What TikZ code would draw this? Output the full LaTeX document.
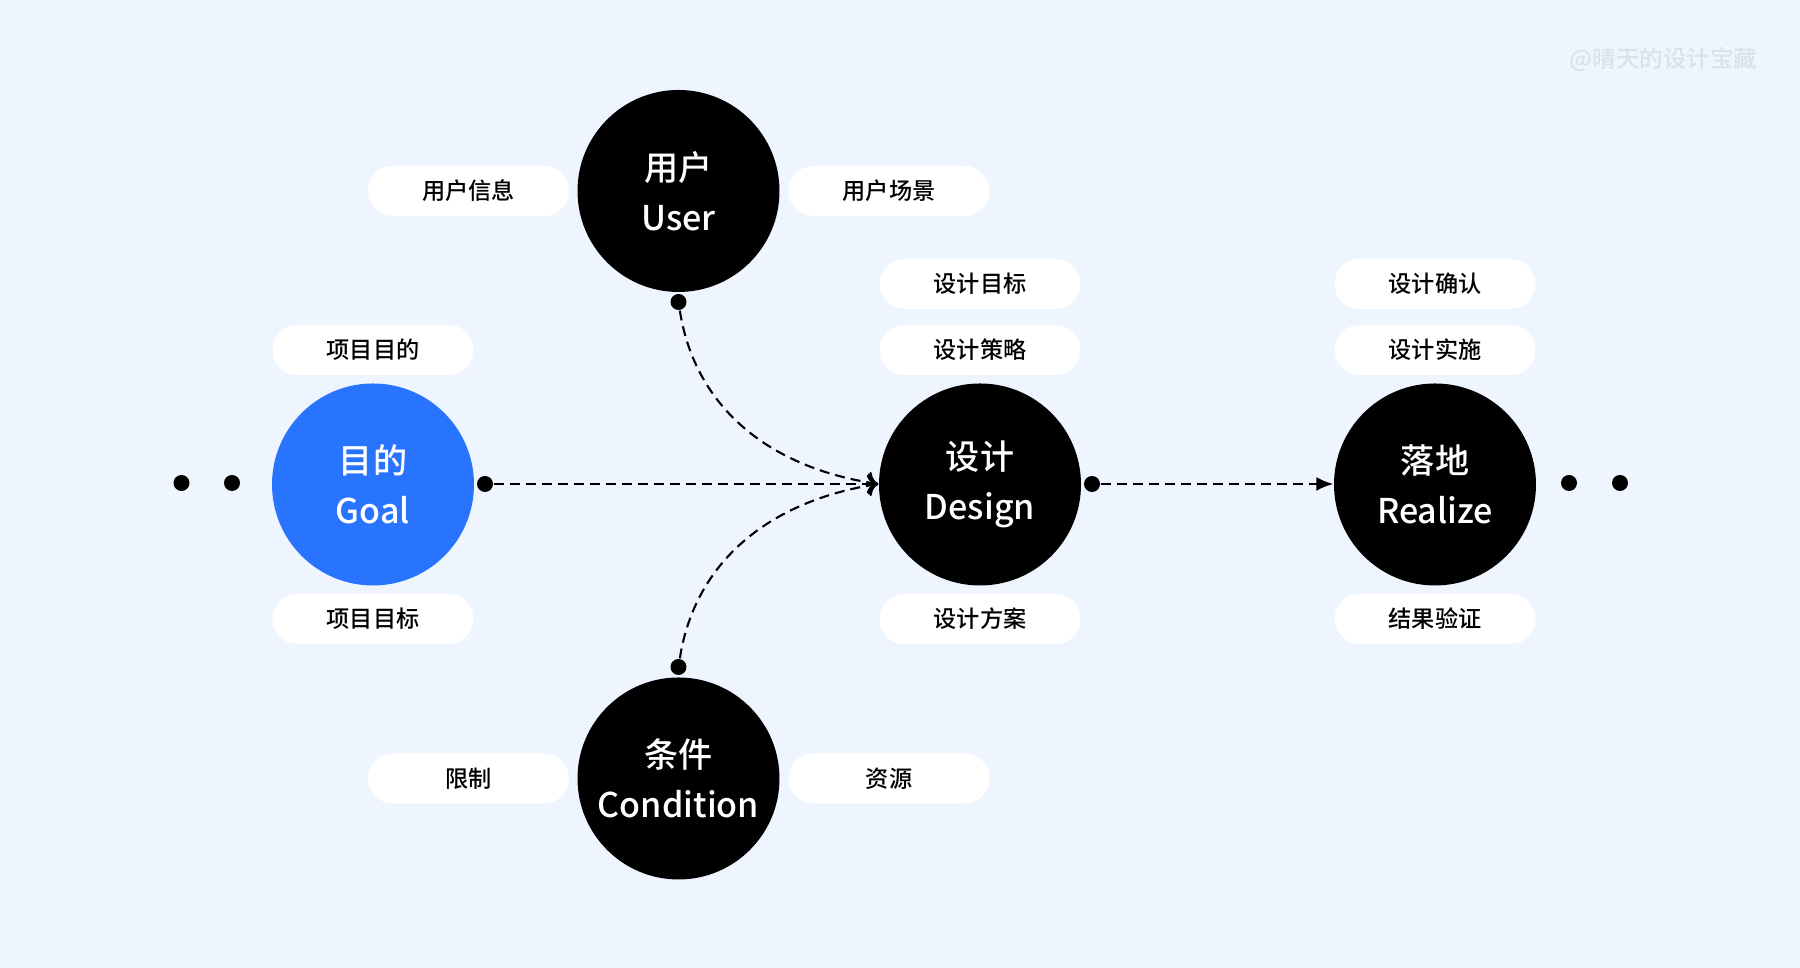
\documentclass[tikz,border=0pt]{standalone}
\usepackage{fontspec}
\setmainfont{Noto Sans CJK SC}
\newfontfamily\medfont{Noto Sans CJK SC Medium}
\usepackage{xcolor}
\usetikzlibrary{positioning}
\usetikzlibrary{arrows.meta}

\definecolor{bgblue}{RGB}{239,245,255}
\definecolor{goalblue}{RGB}{40,116,255}
\definecolor{markgray}{RGB}{218,225,236}

\tikzset{
    stage/.style={circle, fill=black, text=white, minimum size=2.02cm, inner sep=0pt,
        align=center, font=\medfont\fontsize{9.7}{14.2}\selectfont},
    pill/.style={rectangle, rounded corners=0.25cm, fill=white, minimum width=2.01cm,
        minimum height=0.5cm, inner sep=0pt, font=\medfont\fontsize{6.6}{7}\selectfont},
    dot/.style={circle, fill=black, minimum size=0.16cm, inner sep=0pt},
    flow/.style={line width=0.6pt, dash pattern=on 1mm off 0.6mm},
}

\begin{document}
\begin{tikzpicture}
    \fill[bgblue] (0,0) rectangle (18,9.68);
    \useasboundingbox (0,0) rectangle (18,9.68);

    % stages
    \node[stage, fill=goalblue] (goal) at (3.73,4.835) {目的\\Goal};
    \node[stage] (user) at (6.785,7.77) {用户\\User};
    \node[stage] (design) at (9.80,4.835) {设计\\Design};
    \node[stage] (realize) at (14.35,4.835) {落地\\Realize};
    \node[stage] (cond) at (6.785,1.895) {条件\\Condition};

    % labels
    \node[pill] (userinfo) at (4.685,7.77) {用户信息};
    \node[pill] (userscene) at (8.89,7.77) {用户场景};
    \node[pill] (goalaim) at (3.73,6.18) {项目目的};
    \node[pill] (goaltarget) at (3.73,3.49) {项目目标};
    \node[pill] (designtarget) at (9.80,6.84) {设计目标};
    \node[pill] (designplan) at (9.80,6.18) {设计策略};
    \node[pill] (designscheme) at (9.80,3.49) {设计方案};
    \node[pill] (realconfirm) at (14.35,6.84) {设计确认};
    \node[pill] (realdo) at (14.35,6.18) {设计实施};
    \node[pill] (realcheck) at (14.35,3.49) {结果验证};
    \node[pill] (limit) at (4.685,1.895) {限制};
    \node[pill] (resource) at (8.89,1.895) {资源};

    % dots
    \node[dot] (l1) at (1.815,4.85) {};
    \node[dot] (l2) at (2.32,4.85) {};
    \node[dot] (r1) at (15.69,4.85) {};
    \node[dot] (r2) at (16.20,4.85) {};
    \node[dot] (gdot) at (4.85,4.84) {};
    \node[dot] (udot) at (6.785,6.66) {};
    \node[dot] (cdot) at (6.785,3.01) {};
    \node[dot] (ddot) at (10.92,4.84) {};

    % connectors
    \draw[flow, ->] (gdot) -- (design.west |- gdot);
    \draw[flow, ->] (udot) .. controls (6.95,5.6) and (7.7,5.0) .. (design.west |- gdot);
    \draw[flow, ->] (cdot) .. controls (6.95,4.07) and (7.7,4.67) .. (design.west |- gdot);
    \draw[flow, -{Latex[length=1.7mm,width=1.4mm]}] (ddot) -- (realize.west |- ddot);

    \node[text=markgray, font=\medfont\fontsize{6.7}{7}\selectfont, anchor=east, inner sep=0pt] (mark) at (17.58,9.08) {@晴天的设计宝藏};
\end{tikzpicture}
\end{document}
